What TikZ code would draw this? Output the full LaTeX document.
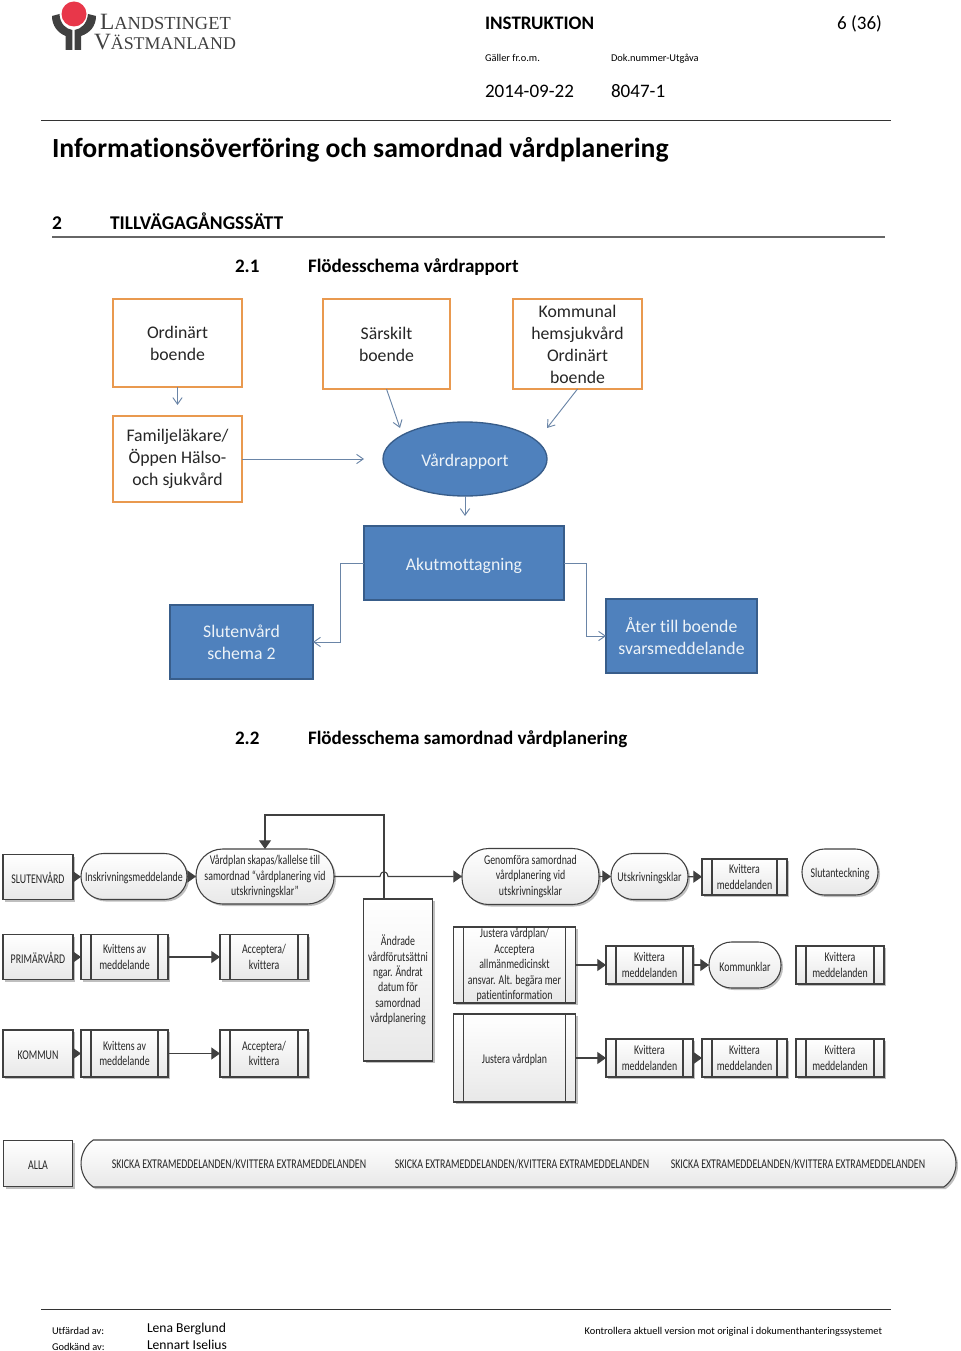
\documentclass[tikz,border=0pt]{standalone}
\usepackage{fontspec}
\usepackage{xcolor}
\usetikzlibrary{arrows.meta,shadows,shapes.geometric,shapes.misc}
\setmainfont[Ligatures=CommonOff]{Carlito}
\newfontfamily\flowfont[FakeStretch=0.74,Ligatures=CommonOff]{Carlito}
\newfontfamily\logofont{Liberation Serif}

\definecolor{bluefill}{HTML}{4F81BD}
\definecolor{blueedge}{HTML}{385D8A}
\definecolor{orangeedge}{HTML}{E9994F}
\definecolor{flowgray}{HTML}{404040}
\definecolor{logored}{HTML}{E8374A}

\tikzset{
  boxsize/.style 2 args={minimum width=#1*0.75pt,minimum height=#2*0.75pt},
  txt/.style={inner sep=0pt,outer sep=0pt,anchor=base west,text=black},
  rapbase/.style={inner sep=0pt,outer sep=0pt,align=center,font=\fontsize{13.3}{16.5}\selectfont,
    execute at begin node={\rule{0pt}{13pt}}},
  orangebox/.style={rapbase,draw=orangeedge,line width=1.8pt,fill=white,text=black!85},
  bluebox/.style={rapbase,draw=blueedge,line width=1pt,fill=bluefill,text=white!90!bluefill},
  rapline/.style={draw=blueedge!75,line width=.7pt,-{Straight Barb[length=5pt,width=7pt]}},
  flowbase/.style={inner sep=0pt,outer sep=0pt,align=center,draw=flowgray,line width=.8pt,
    top color=white,bottom color=black!9,text=black!85,
    drop shadow={shadow xshift=1.5pt,shadow yshift=-1.5pt,opacity=.25,fill=black},
    font=\flowfont\fontsize{10}{11.6}\selectfont,
    execute at begin node={\rule{0pt}{9.5pt}}},
  lanebox/.style={flowbase},
  termbox/.style={flowbase,rounded corners=#1},
  barbox/.style={flowbase,rounded rectangle,rounded rectangle arc length=110},
  predefbox/.style={flowbase,path picture={
    \draw[flowgray,line width=.8pt]
      ([xshift=7.5pt]path picture bounding box.north west) -- ([xshift=7.5pt]path picture bounding box.south west)
      ([xshift=-7.5pt]path picture bounding box.north east) -- ([xshift=-7.5pt]path picture bounding box.south east) ;}},
  flowline/.style={draw=flowgray,line width=.8pt,-{Triangle[length=6.5pt,width=9pt]}}
}

\begin{document}
\begin{tikzpicture}[x=0.75pt,y=-0.75pt]
\useasboundingbox (0,0) rectangle (960,1351) ;

\fill[flowgray] (52,16) .. controls (52,26) and (58,33) .. (65.7,36) -- (65.7,50) -- (72.3,50) -- (72.3,30) .. controls (66,29) and (60,24) .. (59.5,14) -- cycle ;
\fill[flowgray] (96,16) .. controls (96,26) and (90,33) .. (81,36) -- (81,50) -- (74.5,50) -- (74.5,30) .. controls (81,29) and (87,24) .. (88,14) -- cycle ;
\fill[logored] (74,14) circle (12.5) ;
\node[txt,text=flowgray,font=\logofont\fontsize{17.5}{20}\selectfont] (logoa) at (100,30) {L\fontsize{13.8}{20}\selectfont ANDSTINGET} ;
\node[txt,text=flowgray,font=\logofont\fontsize{17.5}{20}\selectfont] (logob) at (94,50) {V\fontsize{13.4}{20}\selectfont ÄSTMANLAND} ;

\node[txt,font=\bfseries\fontsize{14.3}{16}\selectfont] (instr) at (485,30) {INSTRUKTION} ;
\node[txt,anchor=base east,font=\fontsize{14.3}{16}\selectfont] (pagenr) at (882,30) {6 (36)} ;
\node[txt,font=\fontsize{7.8}{9}\selectfont] (galler) at (485,62) {Gäller fr.o.m.} ;
\node[txt,font=\fontsize{7.8}{9}\selectfont] (doknr) at (611,62) {Dok.nummer-Utgåva} ;
\node[txt,font=\fontsize{14.3}{16}\selectfont] (datum) at (485,98) {2014-09-22} ;
\node[txt,font=\fontsize{14.3}{16}\selectfont] (nummer) at (611,98) {8047-1} ;
\draw[black!80,line width=.7pt] (41,120) -- (891,120) ;

\node[txt,font=\bfseries\fontsize{20.75}{24}\selectfont] (title) at (52,158) {Informationsöverföring och samordnad vårdplanering} ;
\node[txt,font=\bfseries\fontsize{14.6}{16}\selectfont] (secnr) at (52,230) {2} ;
\node[txt,font=\bfseries\fontsize{14.6}{16}\selectfont] (sectext) at (110,230) {TILLVÄGAGÅNGSSÄTT} ;
\draw[black!60,line width=.8pt] (52,237) -- (885,237) ;
\node[txt,font=\bfseries\fontsize{14.3}{16}\selectfont] (subnra) at (235,273) {2.1} ;
\node[txt,font=\bfseries\fontsize{14.3}{16}\selectfont] (subtexta) at (308,273) {Flödesschema vårdrapport} ;
\node[txt,font=\bfseries\fontsize{14.3}{16}\selectfont] (subnrb) at (235,744) {2.2} ;
\node[txt,font=\bfseries\fontsize{14.3}{16}\selectfont] (subtextb) at (308,744) {Flödesschema samordnad vårdplanering} ;

\node[orangebox,boxsize={129}{88}] (ordinart) at (177.5,343) {Ordinärt\\boende} ;
\node[orangebox,boxsize={129}{86}] (familj) at (177.5,459) {Familjeläkare/\\Öppen Hälso-\\och sjukvård} ;
\node[orangebox,boxsize={127}{90}] (sarskilt) at (386.5,344) {Särskilt\\boende} ;
\node[orangebox,boxsize={129}{90}] (kommunal) at (577.5,344) {Kommunal\\hemsjukvård\\Ordinärt\\boende} ;
\node[bluebox,ellipse,boxsize={164}{74}] (vardrapport) at (465,459) {Vårdrapport} ;
\node[bluebox,boxsize={200}{74}] (akut) at (464,563) {Akutmottagning} ;
\node[bluebox,boxsize={143}{74}] (slutenvard) at (241.5,642) {Slutenvård\\schema 2} ;
\node[bluebox,boxsize={151}{74}] (ater) at (681.5,636) {Åter till boende\\svarsmeddelande} ;

\coordinate (famend) at (364,459) ;
\coordinate (ordend) at (177.5,405) ;
\coordinate (sarend) at (400,428) ;
\coordinate (komend) at (547,428) ;
\coordinate (vardend) at (465,516) ;
\draw[rapline] (ordinart) -- (ordend) ;
\draw[rapline] (familj) -- (famend) ;
\draw[rapline] (sarskilt.south) -- (sarend) ;
\draw[rapline] (kommunal.south) -- (komend) ;
\draw[rapline] (vardrapport.south) -- (vardend) ;
\draw[rapline] (akut.west) -- ++(-24,0) |- (slutenvard.east) ;
\draw[rapline] (akut.east) -- ++(22,0) |- (ater.west) ;

\node[lanebox,boxsize={70}{45}] (laneslut) at (38,877) {SLUTENVÅRD} ;
\node[lanebox,boxsize={70}{45}] (laneprim) at (38,957) {PRIMÄRVÅRD} ;
\node[lanebox,boxsize={70}{47}] (lanekomm) at (38,1053.5) {KOMMUN} ;
\node[lanebox,boxsize={69}{46}] (laneall) at (38,1163.5) {ALLA} ;

\node[termbox=17pt,boxsize={106}{46}] (inskr) at (134,876.5) {Inskrivningsmeddelande} ;
\node[termbox=20pt,boxsize={138}{55}] (vardplan) at (265,876.5) {Vårdplan skapas/kallelse till\\samordnad “vårdplanering vid\\utskrivningsklar”} ;
\node[termbox=20pt,boxsize={137}{56}] (genomfora) at (530.5,876.5) {Genomföra samordnad\\vårdplanering vid\\utskrivningsklar} ;
\node[termbox=17pt,boxsize={77}{46}] (utskriv) at (649.5,876.5) {Utskrivningsklar} ;
\node[predefbox,boxsize={85}{36}] (kvitta) at (744.5,877) {Kvittera\\meddelanden} ;
\node[termbox=17pt,boxsize={76}{46}] (slutant) at (840,872) {Slutanteckning} ;

\node[predefbox,boxsize={87}{45}] (kvittensa) at (124.5,957) {Kvittens av\\meddelande} ;
\node[predefbox,boxsize={88}{45}] (acceptera) at (264,957) {Acceptera/\\kvittera} ;
\node[predefbox,boxsize={87}{47}] (kvittensb) at (124.5,1053.5) {Kvittens av\\meddelande} ;
\node[predefbox,boxsize={88}{47}] (accepterb) at (264,1053.5) {Acceptera/\\kvittera} ;
\node[lanebox,boxsize={69}{162}] (andrade) at (398,980) {Ändrade\\vårdförutsättni\\ngar. Ändrat\\datum för\\samordnad\\vårdplanering} ;

\node[predefbox,boxsize={122}{76}] (justa) at (514.5,965) {Justera vårdplan/\\Acceptera\\allmänmedicinskt\\ansvar. Alt. begära mer\\patientinformation} ;
\node[predefbox,boxsize={122}{88}] (justb) at (514.5,1058) {Justera vårdplan} ;
\node[predefbox,boxsize={87}{38}] (kvittb) at (649.5,965) {Kvittera\\meddelanden} ;
\node[termbox=17pt,boxsize={72}{46}] (kommunklar) at (745,965) {Kommunklar} ;
\node[predefbox,boxsize={88}{38}] (kvittc) at (840,965) {Kvittera\\meddelanden} ;
\node[predefbox,boxsize={87}{38}] (kvittd) at (649.5,1058) {Kvittera\\meddelanden} ;
\node[predefbox,boxsize={85}{38}] (kvitte) at (744.5,1058) {Kvittera\\meddelanden} ;
\node[predefbox,boxsize={88}{38}] (kvittf) at (840,1058) {Kvittera\\meddelanden} ;

\node[barbox,boxsize={875}{47}] (allabar) at (518.5,1163.5) {} ;
\node[txt,anchor=center,text=black!85,font=\flowfont\fontsize{10}{12}\selectfont] (skickaa) at (239,1164) {SKICKA EXTRAMEDDELANDEN/KVITTERA EXTRAMEDDELANDEN} ;
\node[txt,anchor=center,text=black!85,font=\flowfont\fontsize{10}{12}\selectfont] (skickab) at (522,1164) {SKICKA EXTRAMEDDELANDEN/KVITTERA EXTRAMEDDELANDEN} ;
\node[txt,anchor=center,text=black!85,font=\flowfont\fontsize{10}{12}\selectfont] (skickac) at (798,1164) {SKICKA EXTRAMEDDELANDEN/KVITTERA EXTRAMEDDELANDEN} ;

\coordinate (jumpa) at (380,876.5) ;
\coordinate (jumpb) at (388,876.5) ;
\coordinate (andtop) at (384,899) ;
\draw[flowline] (laneslut) -- (inskr) ;
\draw[flowline] (inskr) -- (vardplan) ;
\draw[flowline] (vardplan.east) -- (jumpa) .. controls (381,870) and (387,870) .. (jumpb) -- (genomfora.west) ;
\draw[flowline] (genomfora) -- (utskriv) ;
\draw[flowline] (utskriv) -- (kvitta) ;
\draw[flowline] (laneprim) -- (kvittensa) ;
\draw[flowline] (kvittensa) -- (acceptera) ;
\draw[flowline] (lanekomm) -- (kvittensb) ;
\draw[flowline] (kvittensb) -- (accepterb) ;
\draw[flowline] (andtop) -- ++(0,-84) -| (vardplan.north) ;
\draw[flowline] (justa) -- (kvittb) ;
\draw[flowline] (kvittb) -- (kommunklar) ;
\draw[flowline] (justb) -- (kvittd) ;
\draw[flowline] (kvittd) -- (kvitte) ;

\draw[black!80,line width=.7pt] (41,1309) -- (891,1309) ;
\node[txt,font=\fontsize{7.8}{9}\selectfont] (utfard) at (52,1334) {Utfärdad av:} ;
\node[txt,font=\fontsize{10.2}{12}\selectfont] (lena) at (147,1332) {Lena Berglund} ;
\node[txt,font=\fontsize{7.8}{9}\selectfont] (godkand) at (52,1350) {Godkänd av:} ;
\node[txt,font=\fontsize{10.2}{12}\selectfont] (lennart) at (147,1349) {Lennart Iselius} ;
\node[txt,anchor=base east,font=\fontsize{7.8}{9}\selectfont] (kontroll) at (882,1334) {Kontrollera aktuell version mot original i dokumenthanteringssystemet} ;

\end{tikzpicture}
\end{document}
